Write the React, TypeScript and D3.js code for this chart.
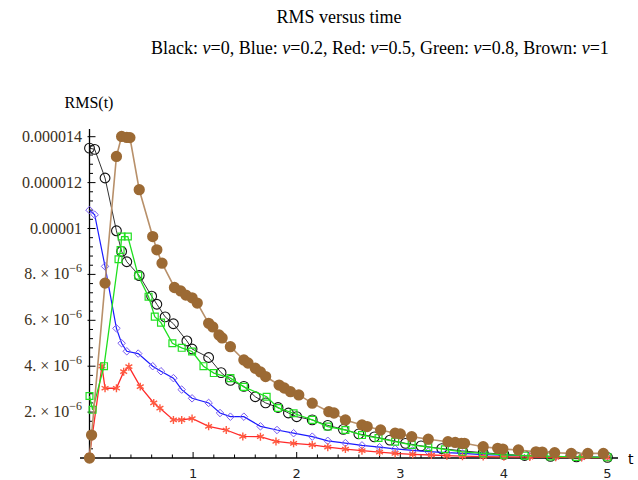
import React, { useEffect, useRef } from 'react';
import * as d3 from 'd3';

const WIDTH = 638;
const HEIGHT = 480;

// values are RMS in units of 1e-6, [t, rms]
const black = [[0, 13.5], [0.05, 13.45], [0.15, 12.2], [0.26, 9.9], [0.31, 9.0], [0.36, 8.55], [0.48, 7.95], [0.6, 7.05], [0.65, 6.7], [0.73, 6.15], [0.81, 5.85], [0.94, 5.1], [0.99, 4.75], [1.15, 4.38], [1.27, 3.72], [1.36, 3.38], [1.49, 3.12], [1.6, 2.67], [1.7, 2.4], [1.82, 2.2], [1.92, 1.96], [2.0, 1.8], [2.15, 1.66], [2.3, 1.42], [2.45, 1.25], [2.6, 1.05], [2.75, 0.92], [2.9, 0.78], [3.05, 0.64], [3.2, 0.53], [3.4, 0.41], [3.6, 0.31], [3.8, 0.23], [4.0, 0.16], [4.2, 0.11], [4.45, 0.07], [4.7, 0.05], [5.0, 0.03]];
const blue = [[0, 10.8], [0.05, 10.6], [0.15, 8.35], [0.26, 5.65], [0.31, 5.0], [0.36, 4.65], [0.47, 4.55], [0.61, 4.0], [0.69, 3.78], [0.81, 3.48], [0.89, 2.98], [0.99, 2.6], [1.15, 2.4], [1.26, 1.96], [1.36, 1.8], [1.49, 1.8], [1.65, 1.38], [1.81, 1.22], [1.97, 1.08], [2.15, 0.93], [2.3, 0.75], [2.47, 0.65], [2.63, 0.55], [2.8, 0.47], [2.95, 0.4], [3.12, 0.33], [3.27, 0.28], [3.45, 0.23], [3.6, 0.2], [3.8, 0.15], [4.0, 0.12], [4.25, 0.08], [4.5, 0.06], [4.75, 0.04], [5.0, 0.03]];
const red = [[0, 0.1], [0.12, 4.0], [0.15, 3.04], [0.26, 3.04], [0.33, 3.76], [0.38, 3.98], [0.49, 3.11], [0.62, 2.4], [0.68, 2.17], [0.81, 1.66], [0.89, 1.66], [0.99, 1.72], [1.15, 1.38], [1.32, 1.22], [1.48, 0.94], [1.65, 0.93], [1.8, 0.72], [1.97, 0.64], [2.15, 0.57], [2.3, 0.47], [2.47, 0.39], [2.63, 0.32], [2.8, 0.26], [2.95, 0.2], [3.12, 0.16], [3.3, 0.13], [3.45, 0.1], [3.6, 0.08], [3.8, 0.06], [4.0, 0.05], [4.25, 0.04], [4.5, 0.03], [4.75, 0.02], [5.0, 0.02]];
const green = [[0, 2.7], [0.03, 2.1], [0.14, 4.0], [0.28, 8.66], [0.3, 9.06], [0.31, 9.65], [0.37, 9.65], [0.47, 7.95], [0.57, 7.03], [0.63, 6.16], [0.69, 5.9], [0.8, 5.0], [0.89, 4.8], [0.99, 4.64], [1.1, 4.0], [1.2, 3.7], [1.36, 3.48], [1.49, 3.1], [1.71, 2.67], [1.82, 2.18], [1.97, 1.95], [2.15, 1.66], [2.3, 1.37], [2.47, 1.22], [2.63, 1.0], [2.79, 0.87], [2.95, 0.71], [3.11, 0.57], [3.27, 0.47], [3.43, 0.38], [3.6, 0.27], [3.8, 0.2], [4.0, 0.14], [4.2, 0.1], [4.45, 0.07], [4.7, 0.05], [5.0, 0.03]];
const brown = [[0, 0], [0.02, 1.0], [0.15, 7.62], [0.26, 13.14], [0.31, 14.01], [0.36, 13.97], [0.39, 13.96], [0.48, 11.69], [0.61, 9.65], [0.65, 9.07], [0.7, 8.49], [0.82, 7.43], [0.88, 7.28], [0.93, 7.1], [0.99, 6.98], [1.04, 6.75], [1.15, 5.87], [1.19, 5.71], [1.25, 5.36], [1.28, 5.23], [1.36, 4.85], [1.49, 4.27], [1.53, 4.14], [1.6, 3.91], [1.65, 3.75], [1.7, 3.55], [1.83, 3.18], [1.88, 3.05], [1.94, 2.89], [2.02, 2.75], [2.15, 2.39], [2.31, 2.02], [2.36, 1.96], [2.47, 1.66], [2.63, 1.44], [2.68, 1.37], [2.81, 1.22], [2.95, 1.08], [3.0, 1.05], [3.11, 0.93], [3.27, 0.82], [3.46, 0.71], [3.53, 0.68], [3.59, 0.64], [3.62, 0.64], [3.8, 0.49], [3.94, 0.42], [3.99, 0.39], [4.14, 0.35], [4.31, 0.27], [4.37, 0.26], [4.49, 0.23], [4.65, 0.2], [4.81, 0.2], [4.96, 0.2]];

const xTicks = [1, 2, 3, 4, 5];
const yTicks = [2, 4, 6, 8, 10, 12, 14];
const yTickBase = ['2. × 10', '4. × 10', '6. × 10', '8. × 10', '0.00001', '0.000012', '0.000014'];
const yTickExp = ['−6', '−6', '−6', '−6', '', '', ''];

const seriesNames = ['Black', 'Blue', 'Red', 'Green', 'Brown'];
const nuValues = ['0', '0.2', '0.5', '0.8', '1'];

export default function App() {
  const ref = useRef(null);

  useEffect(() => {
    const svg = d3.select(ref.current);
    svg.selectAll('*').remove();

    const x = d3.scaleLinear().domain([0, 5]).range([89.5, 607.5]);
    const y = d3.scaleLinear().domain([0, 14]).range([458, 136.7]);

    // titles
    svg.append('text')
      .attr('x', 339).attr('y', 23)
      .attr('text-anchor', 'middle')
      .attr('font-family', 'Liberation Serif, serif')
      .attr('font-size', 18)
      .text('RMS versus time');

    const sub = svg.append('text')
      .attr('x', 380).attr('y', 54)
      .attr('text-anchor', 'middle')
      .attr('font-family', 'Liberation Serif, serif')
      .attr('font-size', 18);
    seriesNames.forEach((n, i) => {
      sub.append('tspan').text(`${n}: `);
      sub.append('tspan').attr('font-style', 'italic').text('ν');
      sub.append('tspan').text(`=${nuValues[i]}${i < seriesNames.length - 1 ? ', ' : ''}`);
    });

    const axis = svg.append('g').attr('stroke', '#000');

    // x axis
    axis.append('line').attr('x1', 80).attr('x2', 618).attr('y1', y(0)).attr('y2', y(0)).attr('stroke-width', 1.3);
    d3.range(0, 5.01, 0.2).forEach((t) => {
      const major = Math.abs(t - Math.round(t)) < 1e-6;
      axis.append('line')
        .attr('x1', x(t)).attr('x2', x(t))
        .attr('y1', y(0)).attr('y2', y(0) - (major ? 6 : 3.5))
        .attr('stroke-width', 1);
    });
    svg.append('g').selectAll('text').data(xTicks).join('text')
      .attr('x', (d) => x(d)).attr('y', 478)
      .attr('text-anchor', 'middle')
      .attr('font-family', 'DejaVu Sans, sans-serif')
      .attr('font-size', 13)
      .attr('fill', '#222')
      .text((d) => d);
    svg.append('text').attr('x', 628).attr('y', 464)
      .attr('font-family', 'DejaVu Sans, sans-serif').attr('font-size', 14).text('t');

    // y axis
    axis.append('line').attr('x1', x(0)).attr('x2', x(0)).attr('y1', y(0)).attr('y2', 129).attr('stroke-width', 1.3);
    d3.range(0.4, 14.21, 0.4).forEach((v) => {
      const major = Math.abs(v / 2 - Math.round(v / 2)) < 1e-6;
      axis.append('line')
        .attr('x1', x(0) - (major ? 2 : 0)).attr('x2', x(0) + (major ? 6 : 3.5))
        .attr('y1', y(v)).attr('y2', y(v))
        .attr('stroke-width', 1);
    });
    const yl = svg.append('g');
    yTicks.forEach((v, i) => {
      const t = yl.append('text')
        .attr('x', 82).attr('y', y(v) + 5)
        .attr('text-anchor', 'end')
        .attr('font-family', 'Liberation Serif, serif')
        .attr('font-size', 16)
        .attr('fill', '#3a3020');
      t.append('tspan').text(yTickBase[i]);
      if (yTickExp[i]) t.append('tspan').attr('dy', -7).attr('font-size', 12).text(yTickExp[i]);
    });
    svg.append('text').attr('x', 89).attr('y', 108)
      .attr('text-anchor', 'middle')
      .attr('font-family', 'Liberation Serif, serif')
      .attr('font-size', 16).text('RMS(t)');

    const line = d3.line().x((d) => x(d[0])).y((d) => y(d[1]));
    const plot = svg.append('g');

    const drawSeries = (data, lineColor, lineWidth, drawMark) => {
      plot.append('path').datum(data)
        .attr('d', line)
        .attr('fill', 'none')
        .attr('stroke', lineColor)
        .attr('stroke-width', lineWidth);
      const g = plot.append('g');
      data.forEach((d) => drawMark(g.append('path').attr('transform', `translate(${x(d[0])},${y(d[1])})`)));
    };

    drawSeries(black, '#333', 1, (p) => p.attr('d', d3.symbol(d3.symbolCircle, 75)()).attr('fill', 'none').attr('stroke', '#111').attr('stroke-width', 1.1));
    drawSeries(blue, '#1a1aff', 1.2, (p) => p.attr('d', d3.symbol(d3.symbolDiamond2, 36)()).attr('fill', 'none').attr('stroke', '#7a5cf0').attr('stroke-width', 1));
    drawSeries(red, '#ff2a2a', 1.3, (p) => p.attr('d', d3.symbol(d3.symbolAsterisk, 44)()).attr('fill', 'none').attr('stroke', '#ff5a40').attr('stroke-width', 1.4));
    drawSeries(green, '#1ee01e', 1.3, (p) => p.attr('d', d3.symbol(d3.symbolSquare2, 60)()).attr('fill', 'none').attr('stroke', '#22e022').attr('stroke-width', 1.2));
    drawSeries(brown, '#b8906a', 1.6, (p) => p.attr('d', d3.symbol(d3.symbolCircle, 100)()).attr('fill', '#9c6a34'));
  }, []);

  return (
    <svg
      ref={ref}
      width={WIDTH}
      height={HEIGHT}
      style={{ position: 'absolute', left: 0, top: 0, background: '#fff' }}
    ></svg>
  );
}
